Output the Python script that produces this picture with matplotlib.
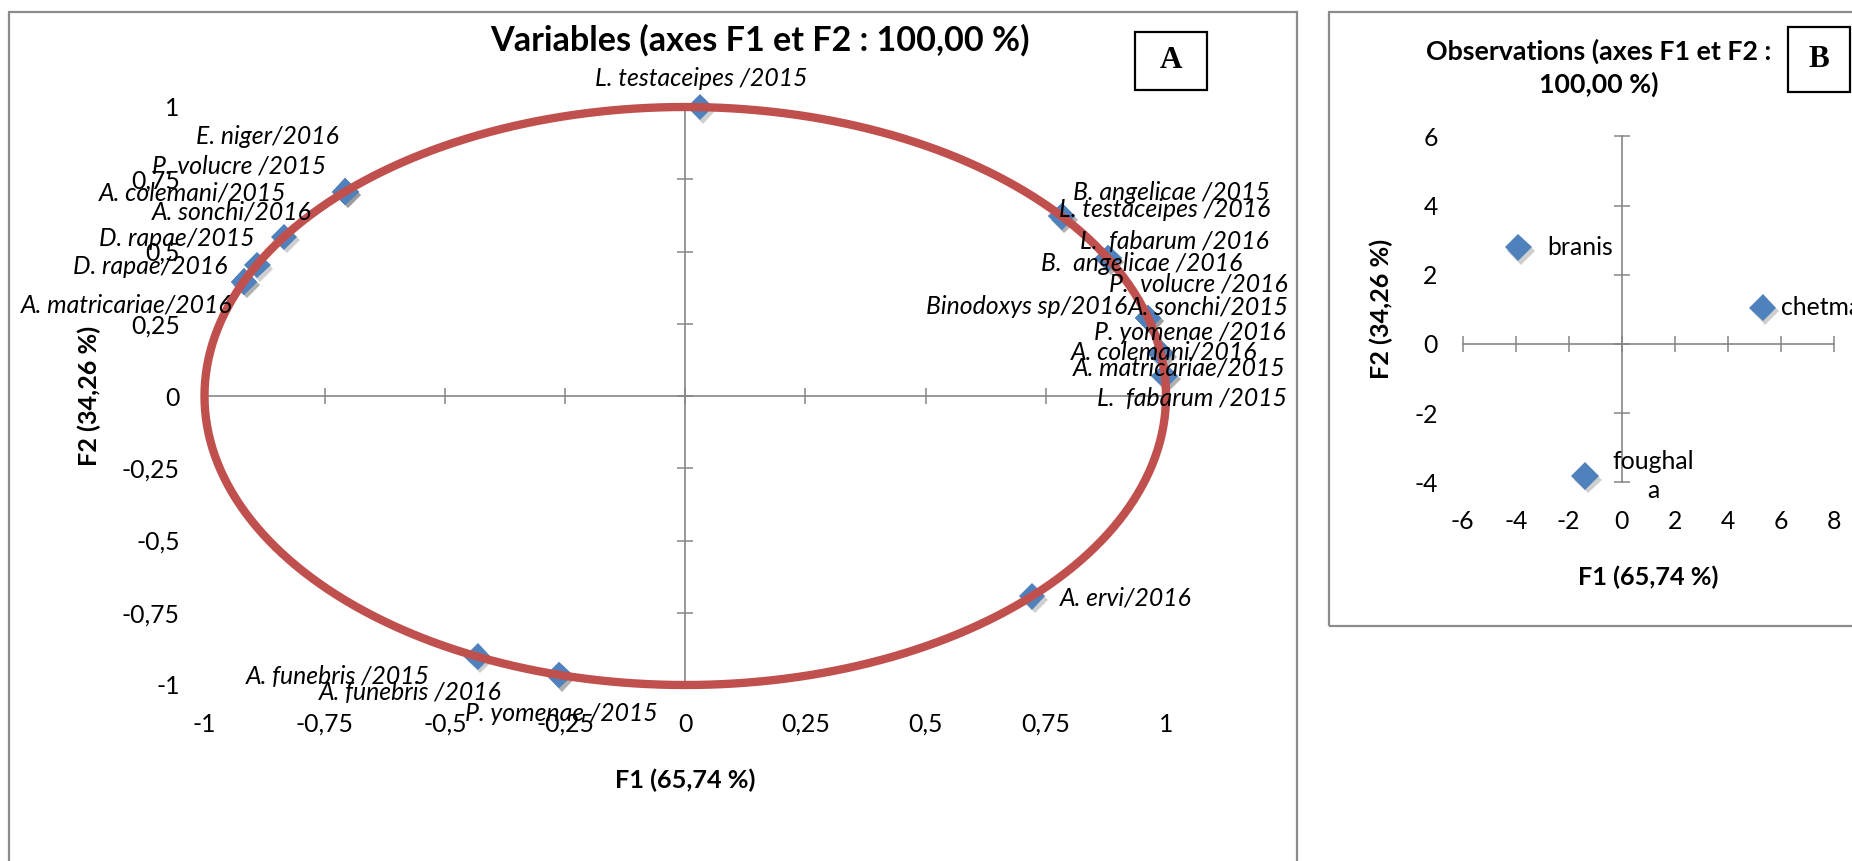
import numpy as np
import matplotlib
matplotlib.use("Agg")
import matplotlib.pyplot as plt
from matplotlib.patches import Rectangle
from matplotlib.ticker import FuncFormatter
import matplotlib.patheffects as pe

plt.rcParams['font.family'] = ['Lato', 'DejaVu Sans']
plt.rcParams['axes.unicode_minus'] = False

# ---------------------------------------------------------------------------
# Panel A - correlation circle: variables (species / year) on F1 and F2
# ---------------------------------------------------------------------------
variables = [
    "L. testaceipes /2015",
    "E. niger/2016",
    "P. volucre /2015",
    "A. colemani/2015",
    "A. sonchi/2016",
    "D. rapae/2015",
    "D. rapae/2016",
    "A. matricariae/2016",
    "B. angelicae /2015",
    "L. testaceipes /2016",
    "L.  fabarum /2016",
    "B.  angelicae /2016",
    "P.  volucre /2016",
    "Binodoxys sp/2016",
    "A. sonchi/2015",
    "P. yomenae /2016",
    "A. colemani/2016",
    "A. matricariae/2015",
    "L.  fabarum /2015",
    "A. funebris /2015",
    "A. funebris /2016",
    "P. yomenae /2015",
    "A. ervi/2016",
]
var_f1 = [0.031, -0.707, -0.707, -0.707, -0.835, -0.890, -0.918, -0.918,
          0.783, 0.783, 0.880, 0.880, 0.963, 0.963, 0.963, 0.989, 0.989,
          0.997, 0.997, -0.432, -0.262, -0.262, 0.721]
var_f2 = [1.000, 0.707, 0.707, 0.707, 0.551, 0.453, 0.396, 0.396,
          0.622, 0.622, 0.476, 0.476, 0.270, 0.270, 0.270, 0.148, 0.148,
          0.070, 0.070, -0.902, -0.965, -0.965, -0.693]

# where each variable name is written (data coordinates, text centre)
var_label_x = [0.034, -0.870, -0.928, -1.024, -0.944, -1.058, -1.113, -1.162,
               1.012, 0.997, 1.017, 0.949, 1.067, 0.710, 1.087, 1.049, 0.997,
               1.027, 1.054, -0.723, -0.571, -0.258, 0.916]
var_label_y = [1.100, 0.897, 0.796, 0.702, 0.638, 0.546, 0.447, 0.315,
               0.703, 0.644, 0.534, 0.459, 0.388, 0.309, 0.309, 0.218, 0.153,
               0.096, -0.010, -0.969, -1.027, -1.098, -0.700]

ticks_a = [-1, -0.75, -0.5, -0.25, 0, 0.25, 0.5, 0.75, 1]

# ---------------------------------------------------------------------------
# Panel B - observations (sites) on F1 and F2
# ---------------------------------------------------------------------------
sites = ["branis", "chetma", "foughala"]
site_labels = ["branis", "chetma", "foughal\na"]
site_f1 = [-3.90, 5.32, -1.38]
site_f2 = [2.79, 1.05, -3.82]
ticks_b_x = [-6, -4, -2, 0, 2, 4, 6, 8]
ticks_b_y = [-4, -2, 0, 2, 4, 6]

# ---------------------------------------------------------------------------
W, H = 1852, 861
fig = plt.figure(figsize=(W / 100, H / 100), dpi=100)
fig.patch.set_facecolor("white")


def fx(px):
    return px / W


def fy(py):
    return 1 - py / H


def comma(v, _pos=None):
    s = f"{v:g}"
    return s.replace(".", ",")


AXIS_GREY = "#868686"
FRAME_GREY = "#8c8c8c"
BLUE = "#4f81bd"
RED = "#c0504d"
TXT = 17.8
AXT = 18.2

shadow = [pe.SimplePatchShadow(offset=(2, -2.5), shadow_rgbFace="#777777", alpha=0.35),
          pe.Normal()]

# chart frames
fig.patches.append(Rectangle((fx(9), fy(880)), fx(1297) - fx(9), fy(12) - fy(880),
                             transform=fig.transFigure, fill=False,
                             edgecolor=FRAME_GREY, lw=1.6, clip_on=False))
fig.patches.append(Rectangle((fx(1329), fy(626)), fx(1880) - fx(1329), fy(12) - fy(626),
                             transform=fig.transFigure, fill=False,
                             edgecolor=FRAME_GREY, lw=1.6, clip_on=False))


def cross_axes(ax, xt, yt, xlim, ylim):
    ax.set_xlim(*xlim)
    ax.set_ylim(*ylim)
    for s in ("top", "right"):
        ax.spines[s].set_visible(False)
    for s in ("left", "bottom"):
        ax.spines[s].set_position(("data", 0))
        ax.spines[s].set_color(AXIS_GREY)
        ax.spines[s].set_linewidth(1.2)
    ax.set_xticks(xt)
    ax.set_yticks(yt)
    ax.tick_params(direction="inout", length=12, width=1.1, color=AXIS_GREY,
                   labelbottom=False, labelleft=False)
    ax.patch.set_visible(False)
    sx = ax.secondary_xaxis("bottom")
    sx.spines["bottom"].set_visible(False)
    sx.set_xticks(xt)
    sx.xaxis.set_major_formatter(FuncFormatter(comma))
    sx.tick_params(length=0, pad=20, labelsize=TXT)
    sy = ax.secondary_yaxis("left")
    sy.spines["left"].set_visible(False)
    sy.set_yticks(yt)
    sy.yaxis.set_major_formatter(FuncFormatter(comma))
    sy.tick_params(length=0, pad=18, labelsize=TXT)


# ---------------- Panel A ----------------
ax_a = fig.add_axes([fx(204.5), fy(685), (1166 - 204.5) / W, (685 - 107) / H])
cross_axes(ax_a, ticks_a, ticks_a, (-1, 1), (-1, 1))

ax_a.plot(var_f1, var_f2, linestyle="none", marker="D", markersize=13.5,
          markerfacecolor=BLUE, markeredgewidth=0, clip_on=False, zorder=3,
          path_effects=shadow)

theta = np.linspace(0, 2 * np.pi, 721)
ax_a.plot(np.cos(theta), np.sin(theta), color=RED, lw=6.0, clip_on=False,
          zorder=4, solid_capstyle="round")

for name, lx, ly in zip(variables, var_label_x, var_label_y):
    ax_a.text(lx, ly, name, fontsize=TXT, style="italic", ha="center",
              va="center", clip_on=False, zorder=5)

fig.text(fx(760), fy(40), "Variables (axes F1 et F2 : 100,00 %)", fontsize=24.6,
         fontweight="bold", ha="center", va="center")
fig.text(fx(685), fy(780), "F1 (65,74 %)", fontsize=AXT, fontweight="bold",
         ha="center", va="center")
fig.text(fx(89), fy(396), "F2 (34,26 %)", fontsize=AXT, fontweight="bold",
         ha="center", va="center", rotation=90)

# ---------------- Panel B ----------------
ax_b = fig.add_axes([fx(1462.7), fy(482.4), (1833.7 - 1462.7) / W, (482.4 - 136.4) / H])
cross_axes(ax_b, ticks_b_x, ticks_b_y, (-6, 8), (-4, 6))

ax_b.plot(site_f1, site_f2, linestyle="none", marker="D", markersize=14,
          markerfacecolor=BLUE, markeredgewidth=0, clip_on=False, zorder=3,
          path_effects=shadow)

offsets = [(20.5, 0, "left"), (13, 0, "left"), (49, 0, "center")]
for lab, x, y, (dx, dy, ha) in zip(site_labels, site_f1, site_f2, offsets):
    ax_b.annotate(lab, (x, y), xytext=(dx, dy), textcoords="offset points",
                  fontsize=TXT, ha=ha, va="center", multialignment="center",
                  linespacing=1.3, annotation_clip=False, zorder=5)

fig.text(fx(1599), fy(68), "Observations (axes F1 et F2 :\n100,00 %)", fontsize=19.3,
         fontweight="bold", ha="center", va="center", multialignment="center",
         linespacing=1.35)
fig.text(fx(1648), fy(577), "F1 (65,74 %)", fontsize=AXT, fontweight="bold",
         ha="center", va="center")
fig.text(fx(1381), fy(309), "F2 (34,26 %)", fontsize=AXT, fontweight="bold",
         ha="center", va="center", rotation=90)

# ---------------- panel letters ----------------
for (x0, y0, x1, y1, letter) in [(1135, 32, 1206.5, 90, "A"), (1787.5, 27, 1850, 92, "B")]:
    fig.patches.append(Rectangle((fx(x0), fy(y1)), fx(x1) - fx(x0), fy(y0) - fy(y1),
                                 transform=fig.transFigure, facecolor="white",
                                 edgecolor="black", lw=1.6, zorder=6))
    fig.text(fx((x0 + x1) / 2), fy((y0 + y1) / 2), letter, family="Liberation Serif",
             fontweight="bold", fontsize=22.5, ha="center", va="center", zorder=7)

fig.savefig("out.png", dpi=100, facecolor="white")
